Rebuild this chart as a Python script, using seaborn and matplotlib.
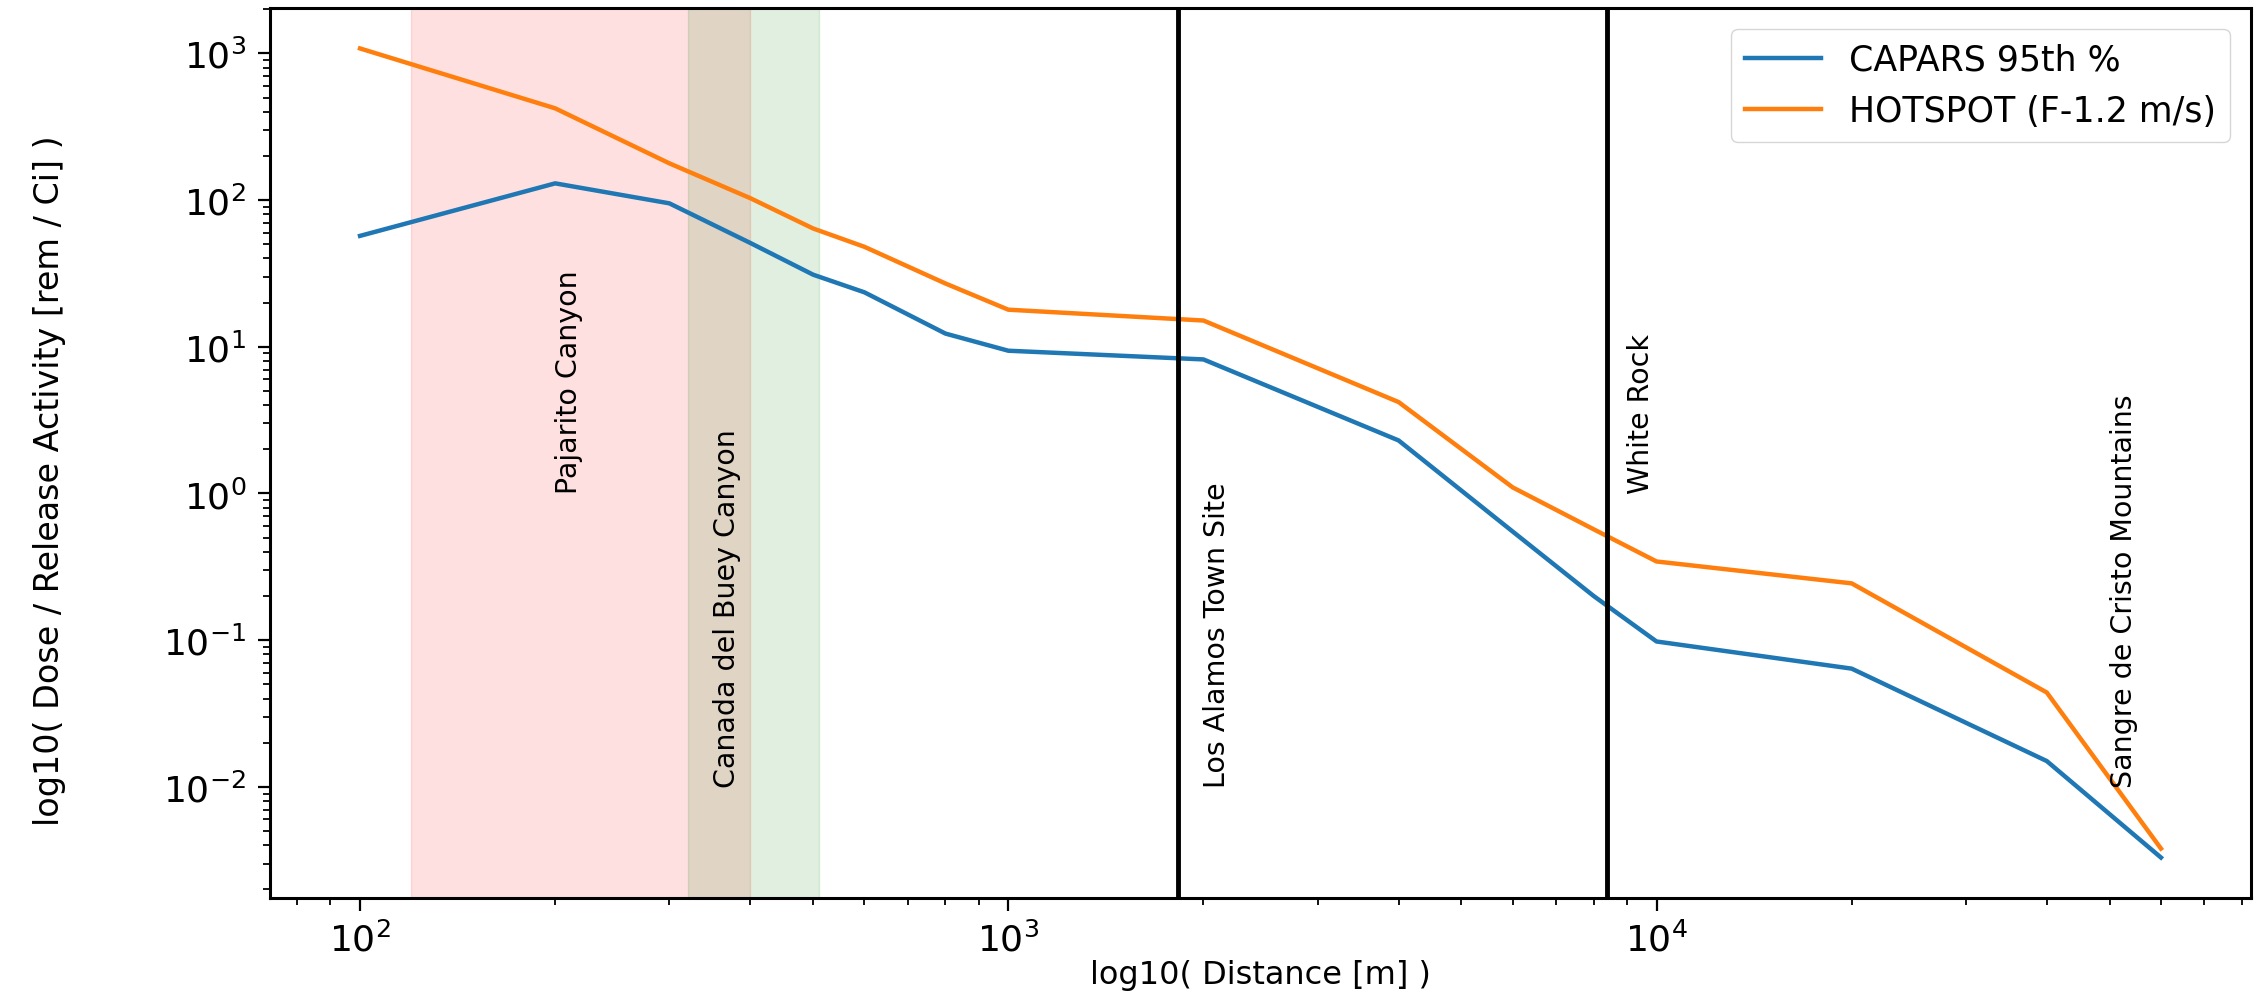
import numpy as np
import pandas as pd
import matplotlib
matplotlib.use("Agg")
import matplotlib.pyplot as plt
import seaborn as sns

# === Data ===
distance_m = [100, 200, 300, 400, 500, 600, 800, 1000, 2000, 4000, 6000, 8000, 10000, 20000, 40000, 60000]
capars_95 = [57, 130, 95, 51, 31, 23.5, 12.3, 9.4, 8.2, 2.3, 0.55, 0.20, 0.098, 0.064, 0.015, 0.0033]
hotspot_f12 = [1080, 422, 178, 103, 64, 48, 27, 17.9, 15.1, 4.2, 1.1, 0.57, 0.344, 0.244, 0.044, 0.0038]
series_names = ["CAPARS 95th %", "HOTSPOT (F-1.2 m/s)"]

# canyons shown as shaded bands (start, end in m)
canyon_names = ["Pajarito Canyon", "Canada del Buey Canyon"]
canyon_bands = [(120, 400), (320, 510)]
canyon_colors = ["red", "green"]

# sites shown as vertical lines
site_lines = [1830, 8400]

# text labels: (x, y, text)
label_x = [200, 350, 2000, 9000, 50000]
label_y = [1, 0.01, 0.01, 1, 0.01]
label_text = ["Pajarito Canyon", "Canada del Buey Canyon", "Los Alamos Town Site",
              "White Rock", "Sangre de Cristo Mountains"]

df = pd.DataFrame({
    "distance": distance_m * 2,
    "dose": capars_95 + hotspot_f12,
    "model": [series_names[0]] * len(distance_m) + [series_names[1]] * len(distance_m),
})

# === Plot ===
fig = plt.figure(figsize=(22.54, 10.03), dpi=100)
ax = fig.add_axes([270 / 2254, 104 / 1003, 1981 / 2254, 890 / 1003])

for (lo, hi), c in zip(canyon_bands, canyon_colors):
    ax.axvspan(lo, hi, color=c, alpha=0.12, zorder=0)

sns.lineplot(data=df, x="distance", y="dose", hue="model", hue_order=series_names,
             palette=["#1f77b4", "#ff7f0e"], linewidth=3.2, ax=ax, zorder=2)

for xv in site_lines:
    ax.axvline(xv, color="black", linewidth=3.5, zorder=3)

ax.set_xscale("log")
ax.set_yscale("log")

for x, y, t in zip(label_x, label_y, label_text):
    ax.text(x, y, t, rotation=90, ha="left", va="bottom", fontsize=20.5, zorder=4)

ax.set_xlabel("log10( Distance [m] )", fontsize=23)
ax.set_ylabel("log10( Dose / Release Activity [rem / Ci] )", fontsize=24)
ax.xaxis.set_label_coords(0.5, -0.068)
ax.yaxis.set_label_coords(-0.103, 0.47)

ax.tick_params(which="major", length=9, width=1.6, labelsize=26, pad=8)
ax.tick_params(which="minor", length=5, width=1.3)
for sp in ax.spines.values():
    sp.set_linewidth(2.2)
    sp.set_color("black")

handles, labels = ax.get_legend_handles_labels()
ax.legend(handles, labels, loc="upper right", fontsize=25, handlelength=2.2,
          borderaxespad=0.6)

fig.savefig("out.png", dpi=100)
